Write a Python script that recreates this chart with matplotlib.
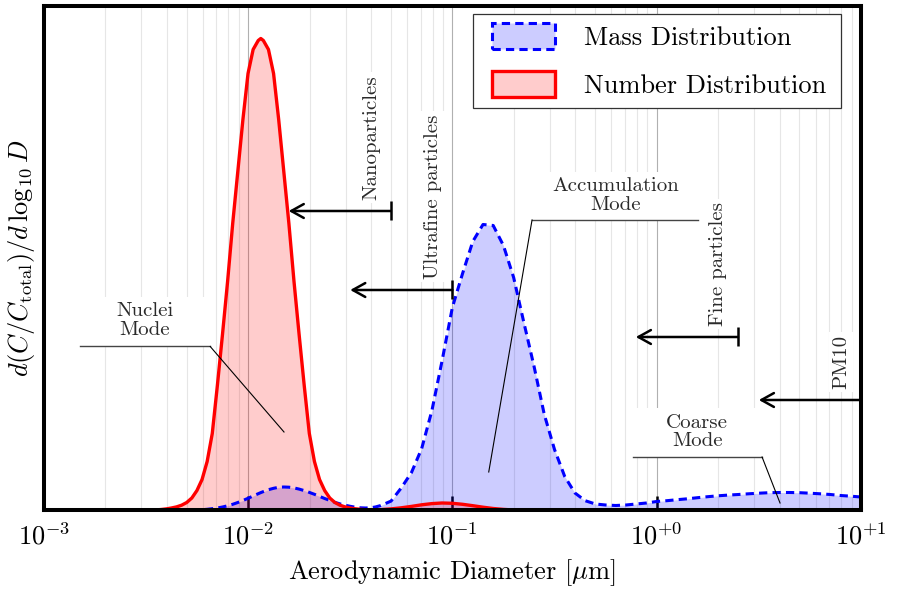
import numpy as np
import matplotlib
matplotlib.use("Agg")
import matplotlib.pyplot as plt
import matplotlib.patches as mpatches
from matplotlib.ticker import LogLocator, NullFormatter

plt.rcParams['font.family'] = 'cmr10'
plt.rcParams['mathtext.fontset'] = 'cm'
plt.rcParams['axes.unicode_minus'] = False
plt.rcParams['axes.formatter.use_mathtext'] = True

# ---------------- data ----------------
log10_diameter = [
    -3.0, -2.8, -2.6, -2.5,
    -2.45, -2.425, -2.4, -2.375, -2.35, -2.325, -2.3, -2.275, -2.25, -2.225,
    -2.2, -2.175, -2.15, -2.125, -2.1, -2.075, -2.05, -2.025, -2.0, -1.975,
    -1.95, -1.9375, -1.925, -1.9, -1.875, -1.85, -1.825, -1.8, -1.775, -1.75, -1.725,
    -1.7, -1.675, -1.65, -1.625, -1.6, -1.575, -1.55, -1.525, -1.5, -1.475,
    -1.45, -1.425, -1.4, -1.375, -1.35,
    -1.3, -1.25, -1.2, -1.15, -1.1, -1.05, -1.0, -0.95, -0.9, -0.85, -0.8,
    -0.75, -0.7, -0.65, -0.6, -0.55, -0.5, -0.45, -0.4, -0.35, -0.3, -0.25,
    -0.2, -0.15, -0.1, -0.05, 0.0, 0.05, 0.1, 0.15, 0.2, 0.25, 0.3, 0.35,
    0.4, 0.45, 0.5, 0.55, 0.6, 0.65, 0.7, 0.75, 0.8, 0.85, 0.9, 0.95, 1.0,
]

number_dist = [
    0.0, 0.0, 0.05, 0.2,
    0.6, 1.0, 1.6, 2.5, 3.6, 5.3, 8.0, 12.5, 20, 31,
    49, 77, 125, 176, 229, 287, 339, 391, 437, 461,
    470, 472, 470, 461, 437, 391, 339, 287, 229, 176, 125,
    77, 49, 31, 20, 12.5, 8.0, 5.3, 3.6, 2.5, 1.7,
    1.2, 0.8, 0.7, 0.8, 0.9,
    1.6, 2.7, 4.1, 5.7, 6.9, 7.5, 7.2, 6.2, 4.8, 3.3, 2.0,
    1.1, 0.5, 0.2, 0.1, 0.0, 0.0, 0.0, 0.0, 0.0, 0.0, 0.0,
    0.0, 0.0, 0.0, 0.0, 0.0, 0.0, 0.0, 0.0, 0.0, 0.0, 0.0, 0.0,
    0.0, 0.0, 0.0, 0.0, 0.0, 0.0, 0.0, 0.0, 0.0, 0.0, 0.0, 0.0, 0.0,
]

mass_dist = [
    0.0, 0.0, 0.0, 0.0,
    0.0, 0.0, 0.0, 0.0, 0.1, 0.1, 0.2, 0.3, 0.5, 0.8,
    1.2, 1.8, 2.5, 3.5, 4.7, 6.2, 8.0, 10.0, 12.2, 14.5,
    16.8, 17.9, 18.9, 20.8, 22.2, 23.2, 23.5, 23.3, 22.6, 21.4, 19.9,
    18.1, 16.2, 14.1, 12.0, 10.1, 8.2, 6.6, 5.3, 4.2, 3.3,
    2.7, 2.5, 2.7, 3.6, 5.0,
    9.4, 22.6, 38, 62, 100, 150, 203, 237, 269, 286, 285,
    265, 233, 188, 144, 96, 61, 34, 17.5, 9.8, 6.5, 5.5,
    5.0, 5.5, 6.5, 7.5, 9.0, 9.8, 10.8, 11.7, 12.8, 13.8, 14.7, 15.4,
    16.0, 16.7, 17.3, 17.8, 18.0, 18.0, 17.8, 17.3, 16.7, 16.0, 15.0, 14.3, 13.5,
]

xtick_values = [1e-3, 1e-2, 1e-1, 1e0, 1e1]
xtick_labels = [r'$10^{-3}$', r'$10^{-2}$', r'$10^{-1}$', r'$10^{+0}$', r'$10^{+1}$']

size_class_labels = ['Nanoparticles', 'Ultrafine particles', 'Fine particles', 'PM10']
size_class_limits = [0.05, 0.1, 2.5, 10.0]

series_labels = ['Mass Distribution', 'Number Distribution']

# ---------------- figure ----------------
diameter_um = 10.0 ** np.array(log10_diameter)

fig = plt.figure(figsize=(9, 5.9), dpi=100)
ax = fig.add_axes([0.04856, 0.13475, 0.9081, 0.85424])
ax.set_xscale('log')
ax.set_xlim(1e-3, 1e1)
ax.set_ylim(0, 504)
ax.set_axisbelow(True)

mass_face = (0.8, 0.8, 1.0)
num_face = (1.0, 0.8, 0.8)
dash = (0, (2.7, 1.7))

ax.fill_between(diameter_um, 0, mass_dist, color='blue', alpha=0.2, lw=0, zorder=1)
ax.fill_between(diameter_um, 0, number_dist, color='red', alpha=0.2, lw=0, zorder=1)
ax.plot(diameter_um, mass_dist, color='blue', lw=2.2, ls=dash, zorder=2)
ax.plot(diameter_um, number_dist, color='red', lw=2.4, zorder=2.1)

# grid
ax.xaxis.set_minor_locator(LogLocator(base=10, subs=np.arange(2, 10)))
ax.xaxis.set_minor_formatter(NullFormatter())
ax.grid(True, which='minor', axis='x', color='#e6e6e6', lw=0.8)
ax.grid(True, which='major', axis='x', color='#b0b0b0', lw=0.8)
ax.set_xticks(xtick_values)
ax.set_xticklabels(xtick_labels)
ax.tick_params(axis='x', which='major', direction='in', length=10, width=1.8,
               labelsize=19, pad=9, top=False)
ax.tick_params(axis='x', which='minor', length=0)
ax.set_yticks([])
for s in ax.spines.values():
    s.set_linewidth(2.9)

ax.set_xlabel(r'Aerodynamic Diameter [$\mu$m]', fontsize=19, labelpad=5.5)
ax.set_ylabel(r'$d(C/C_{\mathrm{total}})/d\,\log_{10} D$', fontsize=19, labelpad=5)

txt_color = '#2a2a2a'
# size-class arrows
arrow_y = [299.5, 220.5, 173.5, 110.5]
for lab, lim, yy in zip(size_class_labels, size_class_limits, arrow_y):
    ax.annotate('', xy=(lim / 10 ** 0.5, yy), xytext=(lim, yy),
                arrowprops=dict(arrowstyle='->,head_length=0.45,head_width=0.25',
                                lw=1.8, color='black', shrinkA=0, shrinkB=0,
                                mutation_scale=20), zorder=4)
    if lim < 10:
        ax.plot([lim, lim], [yy - 9.5, yy + 9.5], color='black', lw=1.8,
                solid_capstyle='butt', zorder=4)
    ax.text(lim * 0.8, yy + 11, lab, rotation=90, ha='center', va='bottom',
            fontsize=15, color=txt_color, zorder=5,
            bbox=dict(boxstyle='square,pad=0.15', fc='white', ec='none'))

# mode annotations
modes = [
    ('Nuclei\nMode', 0.00313, 190, 164, 0.00151, 0.00653, 0.0150, 78.5, 213.5),
    ('Accumulation\nMode', 0.632, 315, 290.5, 0.2455, 1.593, 0.1507, 38.5, 338.5),
    ('Coarse\nMode', 1.578, 78.5, 53.5, 0.766, 3.28, 4.015, 7.5, 102.5),
]
for text, tx, ty, uy, ux0, ux1, px, py, top in modes:
    ax.add_patch(mpatches.Rectangle((ux0, uy), ux1 - ux0, top - uy, fc='white',
                                    ec='none', zorder=0.8))
    ax.text(tx, ty, text, ha='center', va='center', fontsize=15, color=txt_color,
            linespacing=1.05, zorder=5)
    ax.plot([ux1, ux0], [uy, uy], color='#444444', lw=1.0, zorder=4)
    ax.plot([ux0 if ux0 > px else ux1, px], [uy, py], color='black', lw=0.8, zorder=4)

# legend frame (drawn separately so that its padding matches the reference)
ax.add_patch(mpatches.Rectangle((0.5249, 0.798), 0.9752 - 0.5249, 0.9851 - 0.798,
                                transform=ax.transAxes, fc='white', ec='#333333',
                                lw=0.9, zorder=6))
handles = [
    mpatches.Patch(facecolor=mass_face, edgecolor='blue', linestyle=dash, lw=2.2),
    mpatches.Patch(facecolor=num_face, edgecolor='red', lw=2.4),
]
leg = ax.legend(handles, series_labels, loc='upper left', bbox_to_anchor=(0.5485, 0.9672),
                borderaxespad=0, fontsize=19, frameon=False, handlelength=2.4,
                handleheight=1.14, handletextpad=1.1, borderpad=0.0, labelspacing=0.8)
leg.set_zorder(7)

fig.savefig('out.png', dpi=100)
